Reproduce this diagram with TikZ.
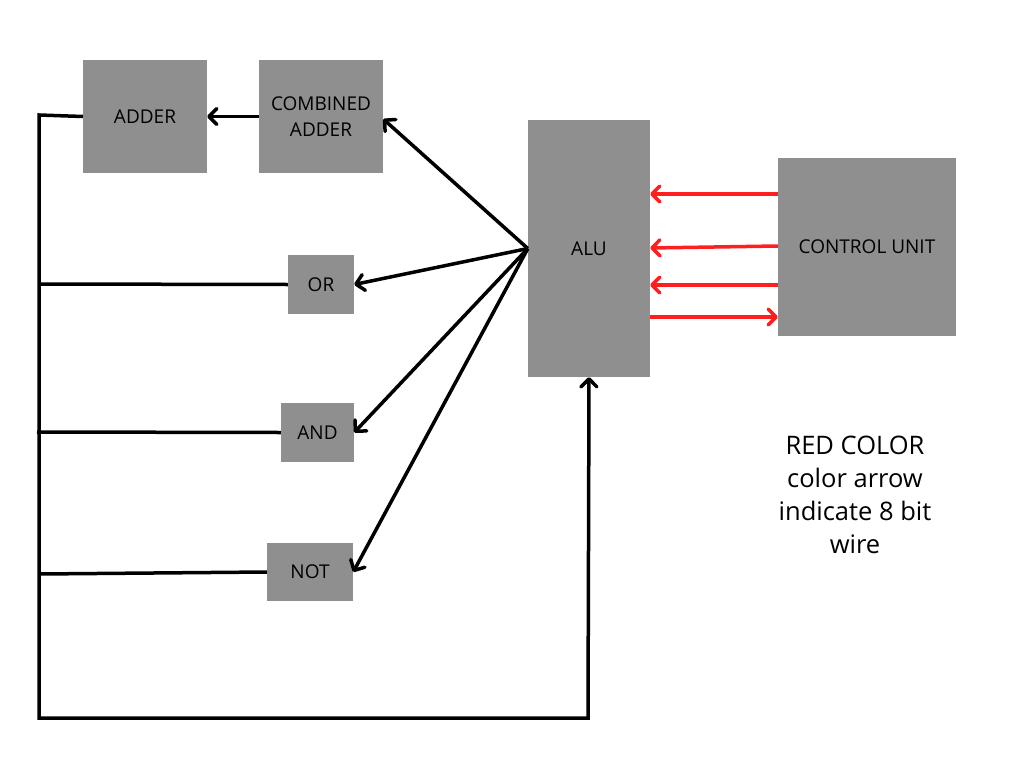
\documentclass[tikz,border=0pt]{standalone}
\usepackage{fontspec}
\setmainfont{Open Sans}
\usetikzlibrary{arrows.meta}
\definecolor{boxgray}{HTML}{8F8F8F}
\definecolor{wirered}{HTML}{FF1F1F}
\begin{document}
\begin{tikzpicture}[x=1pt,y=-1pt,
  blk/.style={draw=none,fill=boxgray,inner sep=0pt,align=center,font=\fontsize{19}{26}\selectfont},
  wire/.style={line width=3.5pt,black},
  redwire/.style={line width=3.5pt,wirered},
  tip/.style={-{Straight Barb[length=8pt,width=16pt,line width=3.5pt,round]}}
]
\useasboundingbox (0,0) rectangle (1024,768);
\fill[white] (0,0) rectangle (1024,768);

\node[blk,minimum width=124pt,minimum height=113pt] (adder) at (145,116.5) {ADDER};
\node[blk,minimum width=124pt,minimum height=113pt] (comb) at (321,116.5) {COMBINED\\ADDER};
\node[blk,minimum width=122pt,minimum height=257pt] (alu) at (589,248.5) {ALU};
\node[blk,minimum width=178pt,minimum height=178pt] (cu) at (867,247) {CONTROL UNIT};
\node[blk,minimum width=66pt,minimum height=59pt] (or) at (321,284.5) {OR};
\node[blk,minimum width=73pt,minimum height=59pt] (and) at (317.5,432.5) {AND};
\node[blk,minimum width=86pt,minimum height=58pt] (not) at (310,572) {NOT};

\node[font=\fontsize{25.5}{33}\selectfont,align=center,inner sep=0pt] (note) at (855,495)
  {RED COLOR\\color arrow\\indicate 8 bit\\wire};

\coordinate (tl) at (39,115);
\coordinate (bl) at (39,718);
\coordinate (br) at (588,718);
\coordinate (orl) at (39,284);
\coordinate (andl) at (37,432);
\coordinate (notl) at (39,574);

% bus
\draw[wire,tip] (adder.west) -- (tl) -- (bl) -- (br) -- (alu.south);
\draw[wire] (orl) -- (or.west);
\draw[wire] (andl) -- (and.west);
\draw[wire] (notl) -- (not.west);

% combined adder to adder
\draw[wire,tip] (comb.west) -- (adder.east);

% ALU fan-out
\draw[wire,tip] (alu.west) -- (comb.south east |- 0,119) ;
\draw[wire,tip] (alu.west) -- (or.east);
\draw[wire,tip] (alu.west) -- (and.east);
\draw[wire,tip] (alu.west) -- (not.east);

% red wires
\draw[redwire,tip] (cu.west |- 0,194) -- (alu.east |- 0,194);
\draw[redwire,tip] (cu.west |- 0,246) -- (alu.east |- 0,248);
\draw[redwire,tip] (cu.west |- 0,285) -- (alu.east |- 0,285);
\draw[redwire,tip] (alu.east |- 0,317) -- (cu.west |- 0,317);
\end{tikzpicture}
\end{document}
